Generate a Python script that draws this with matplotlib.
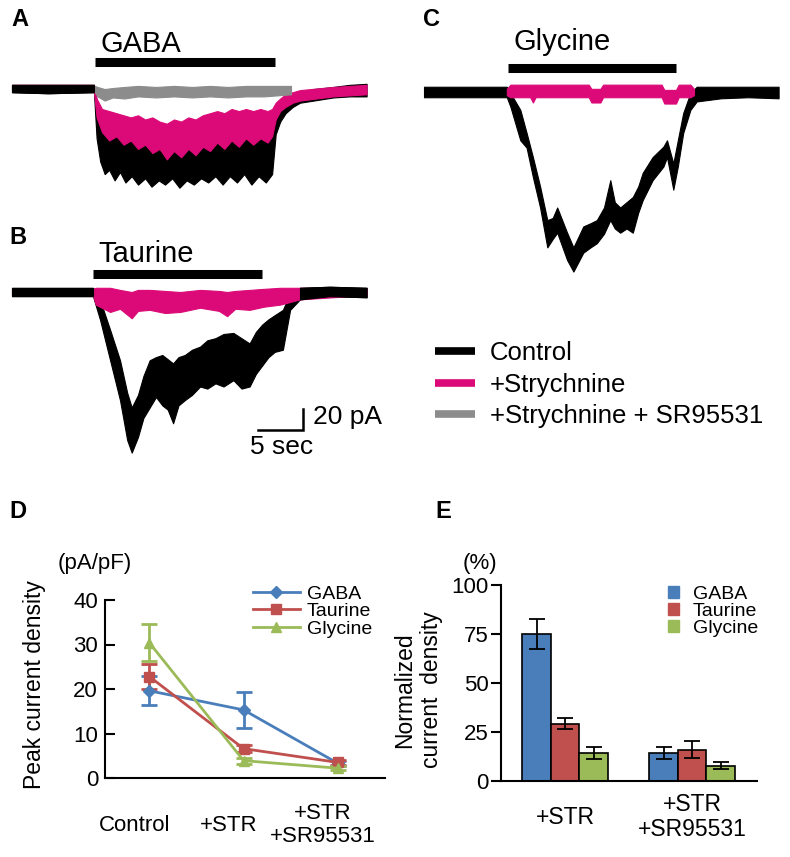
import numpy as np
import matplotlib
matplotlib.use('Agg')
import matplotlib.pyplot as plt
from matplotlib.lines import Line2D
from matplotlib.patches import Patch

plt.rcParams['font.family'] = ['Liberation Sans', 'DejaVu Sans']

W, H = 790, 857
PX_S = 9.0     # px per second in traces
PX_PA = 1.05   # px per pA in traces

BLACK = '#000000'
PINK = '#dc0a78'
GREY = '#8c8c8c'
C_GABA = '#4a7ebb'
C_TAU = '#c0504d'
C_GLY = '#9bbb59'

# ---- traces: columns are time (s), upper edge (pA), lower edge (pA)
ctrl_a = np.array([
    [0.0, 3, -4], [4.0, 3, -5], [9.1, 3, -4], [9.4, -12, -48], [9.8, -28, -70],
    [10.3, -36, -82], [10.8, -40, -78], [11.4, -45, -88], [12.0, -44, -80],
    [12.6, -48, -90], [13.3, -50, -84], [14.0, -47, -92], [14.8, -52, -86],
    [15.5, -49, -94], [16.3, -53, -88], [17.0, -50, -92], [17.8, -54, -86],
    [18.6, -50, -95], [19.4, -52, -88], [20.2, -48, -92], [21.0, -52, -86],
    [21.8, -46, -90], [22.6, -44, -84], [23.4, -46, -92], [24.2, -42, -84],
    [25.0, -40, -90], [25.8, -42, -82], [26.6, -38, -92], [27.4, -40, -84],
    [28.2, -36, -90], [28.9, -34, -82], [29.3, -22, -44], [29.8, -16, -32],
    [30.4, -10, -24], [31.2, -6, -18], [32.0, -4, -14], [33.5, -1, -12],
    [35.7, 1, -9], [37.5, 3, -8], [39.4, 4, -8]])
stry_a = np.array([
    [0.0, 3, -3], [9.1, 3, -3], [9.4, -10, -28], [10.0, -20, -42], [10.8, -22, -50],
    [11.6, -24, -46], [12.4, -26, -54], [13.2, -28, -50], [14.0, -26, -58],
    [14.8, -30, -54], [15.6, -28, -62], [16.4, -32, -58], [17.2, -34, -68],
    [18.0, -30, -60], [18.8, -32, -66], [19.6, -28, -58], [20.4, -30, -64],
    [21.2, -26, -56], [22.0, -24, -60], [22.8, -22, -52], [23.6, -24, -58],
    [24.4, -20, -50], [25.2, -22, -56], [26.0, -20, -48], [26.8, -22, -54],
    [27.6, -20, -48], [28.4, -22, -52], [28.9, -20, -46], [29.3, -14, -30],
    [29.8, -10, -22], [30.4, -6, -18], [31.2, -4, -14], [32.0, -2, -12],
    [35.7, 1, -8], [39.4, 3, -6]])
sr_a = np.array([
    [9.2, 2, -4], [9.5, 1, -8], [10.3, -1, -12], [11.2, 0, -9],
    [12.5, 1, -10], [14.0, 2, -8], [16.0, 1, -9], [18.0, 2, -8], [20.0, 1, -9],
    [22.0, 2, -8], [24.0, 1, -9], [26.0, 2, -8], [28.0, 2, -8], [31.0, 2, -6]])

ctrl_b = np.array([
    [0.0, 4, -4], [9.0, 4, -4], [9.8, -8, -27], [10.9, -36, -65], [12.0, -65, -103],
    [12.8, -96, -141], [13.3, -110, -153], [14.0, -98, -138], [14.6, -80, -120],
    [15.3, -65, -110], [16.0, -62, -100], [16.7, -60, -108], [17.3, -64, -112],
    [17.9, -68, -125], [18.5, -62, -108], [19.2, -60, -103], [20.0, -55, -98],
    [20.9, -52, -90], [21.7, -46, -92], [22.6, -44, -87], [23.5, -40, -90],
    [24.6, -39, -84], [25.5, -44, -92], [26.4, -49, -90], [27.1, -38, -78],
    [27.8, -31, -70], [28.5, -26, -62], [29.2, -22, -57], [30.1, -17, -55],
    [30.9, -1, -17], [32.0, 4, -7], [35.3, 5, -4], [39.4, 4, -5]])
stry_b = np.array([
    [0.0, 3, -3], [9.0, 3, -3], [9.3, 4, -12], [10.9, 4, -19], [12.0, 2, -16],
    [13.3, 0, -25], [14.0, 2, -18], [15.3, 2, -17], [17.0, 1, -20], [18.7, 0, -19],
    [20.9, 2, -15], [23.0, 1, -18], [23.9, 0, -23], [24.8, 1, -16], [26.4, 2, -17],
    [28.0, 3, -14], [29.8, 4, -12], [32.0, 4, -7], [39.4, 3, -3]])

ctrl_c = np.array([
    [0.0, 5, -5], [9.2, 5, -5], [9.6, -1, -14], [10.7, -17, -46], [11.4, -39, -53],
    [12.1, -62, -81], [12.9, -90, -110], [13.7, -122, -148], [14.3, -120, -140],
    [14.8, -110, -134], [15.9, -134, -160], [16.6, -148, -171], [17.7, -128, -153],
    [18.5, -125, -148], [19.2, -122, -144], [20.0, -110, -135], [20.7, -84, -122],
    [21.2, -105, -130], [21.8, -110, -134], [22.5, -105, -130], [23.2, -100, -134],
    [23.8, -90, -115], [24.3, -77, -103], [25.4, -62, -84], [26.6, -52, -71],
    [27.0, -46, -62], [27.7, -68, -93], [28.2, -46, -71], [28.8, -20, -39],
    [29.6, -1, -17], [30.3, 5, -9], [33.0, 5, -6], [36.0, 5, -5], [39.4, 5, -6]])
stry_c = np.array([
    [9.2, 3, -3], [9.6, 7, -5], [11.8, 7, -5], [12.1, 7, -10],
    [12.4, 7, -5], [18.3, 7, -5], [18.6, 3, -10], [19.6, 3, -10], [19.9, 7, -5],
    [26.4, 7, -5], [26.7, 2, -11], [28.0, 2, -11], [28.3, 7, -5], [29.6, 7, -5],
    [30.0, 3, -3]])

# drug application (start, stop) in s
app_a = (9.2, 29.2)
app_b = (9.0, 27.8)
app_c = (9.3, 28.0)

# ---- D: peak current density (pA/pF)
d_cats = ['Control', '+STR', '+STR\n+SR95531']
gaba_pcd = [19.6, 15.3, 3.3]
gaba_pcd_err = [3.3, 4.0, 0.5]
tau_pcd = [22.8, 6.6, 3.5]
tau_pcd_err = [2.8, 0.8, 0.5]
gly_pcd = [30.4, 3.9, 2.2]
gly_pcd_err = [4.2, 0.7, 0.5]

# ---- E: normalized current density (%)
e_cats = ['+STR', '+STR\n+SR95531']
gaba_norm = [75.0, 14.2]
gaba_norm_err = [7.8, 3.0]
tau_norm = [29.2, 16.0]
tau_norm_err = [2.7, 4.5]
gly_norm = [14.1, 7.8]
gly_norm_err = [3.0, 1.7]

fig = plt.figure(figsize=(W / 100, H / 100), dpi=100)


def px_box(l, t, r, b):
    return [l / W, 1 - b / H, (r - l) / W, (b - t) / H]


def trace_ax(l, t, r, b, x0, y0):
    ax = fig.add_axes(px_box(l, t, r, b))
    ax.set_xlim((l - x0) / PX_S, (r - x0) / PX_S)
    ax.set_ylim(-(b - y0) / PX_PA, (y0 - t) / PX_PA)
    ax.axis('off')
    return ax


def draw_trace(ax, tr, color):
    ax.fill_between(tr[:, 0], tr[:, 2], tr[:, 1], color=color, lw=0.8)


def drug(ax, app, ybar, label, ytxt):
    ax.plot(app, [ybar, ybar], color='black', lw=6.5, solid_capstyle='butt')
    ax.text(app[0] + 0.6, ytxt, label, fontsize=21, va='baseline', ha='left')


# A
axa = trace_ax(0, 0, 395, 215, 12, 88)
draw_trace(axa, ctrl_a, BLACK)
draw_trace(axa, stry_a, PINK)
draw_trace(axa, sr_a, GREY)
draw_trace(axa, ctrl_a[ctrl_a[:, 0] <= app_a[0]], BLACK)
drug(axa, app_a, 25.2, 'GABA', 34.3)

# B
axb = trace_ax(0, 215, 395, 470, 12, 292)
draw_trace(axb, ctrl_b, BLACK)
draw_trace(axb, stry_b, PINK)
draw_trace(axb, ctrl_b[ctrl_b[:, 0] <= app_b[0]], BLACK)
draw_trace(axb, ctrl_b[ctrl_b[:, 0] >= 32.0], BLACK)
drug(axb, app_b, 17.1, 'Taurine', 28.6)
# scale bar 5 s / 20 pA
sx, sy = 27.3, -131.4
axb.plot([sx, sx + 5, sx + 5], [sy, sy, sy + 20], color='black', lw=1.8,
         solid_joinstyle='miter')
axb.text(sx + 6.1, sy + 12, '20 pA', fontsize=19, va='center', ha='left')
axb.text(sx + 2.6, sy - 16, '5 sec', fontsize=19, va='center', ha='center')

# C
axc = trace_ax(400, 0, 790, 300, 424, 92)
draw_trace(axc, ctrl_c, BLACK)
draw_trace(axc, stry_c, PINK)
drug(axc, app_c, 23.3, 'Glycine', 40.0)

# panel letters
for lab, x, y in [('A', 20, 19), ('B', 18, 237), ('C', 432, 19), ('D', 18, 512), ('E', 443, 512)]:
    fig.text(x / W, 1 - y / H, lab, fontsize=17, fontweight='bold', ha='center', va='center')

# legend for traces
hs = [Line2D([], [], color=c, lw=5.5, solid_capstyle='butt') for c in (BLACK, PINK, GREY)]
fig.legend(hs, ['Control', '+Strychnine', '+Strychnine + SR95531'],
           loc='upper left', bbox_to_anchor=(435 / W, 1 - 341 / H), frameon=False,
           fontsize=18.5, handlelength=1.56, handletextpad=0.58, labelspacing=0.3,
           borderpad=0, borderaxespad=0)

# D
axd = fig.add_axes(px_box(105, 600, 385, 778))
xd = np.arange(len(d_cats))
d_series = [(gaba_pcd, gaba_pcd_err, C_GABA, 'D', 6.5, 'GABA'),
            (tau_pcd, tau_pcd_err, C_TAU, 's', 7, 'Taurine'),
            (gly_pcd, gly_pcd_err, C_GLY, '^', 7.5, 'Glycine')]
dh = []
for vals, errs, c, m, ms, lab in d_series:
    axd.errorbar(xd, vals, yerr=errs, color=c, marker=m, ms=ms, lw=2, capsize=6,
                 capthick=2, elinewidth=2)
    dh.append(Line2D([], [], color=c, marker=m, ms=ms, lw=2))
axd.set_xlim(-0.47, 2.5)
axd.set_ylim(0, 40)
axd.set_yticks([0, 10, 20, 30, 40])
axd.set_xticks(xd - 0.16)
axd.set_xticklabels(d_cats, fontsize=16, va='center', ha='center', linespacing=1.1)
axd.tick_params(axis='x', length=0, pad=34)
axd.tick_params(axis='y', direction='in', length=7, width=1.5, labelsize=16, pad=5)
for s in ['top', 'right']:
    axd.spines[s].set_visible(False)
for s in ['left', 'bottom']:
    axd.spines[s].set_linewidth(1.5)
axd.legend(dh, ['GABA', 'Taurine', 'Glycine'], loc='upper left',
           bbox_to_anchor=(253 / W, 1 - 585 / H),
           bbox_transform=fig.transFigure, frameon=False, fontsize=14,
           handlelength=2.4, handletextpad=0.36, labelspacing=0.0,
           borderpad=0, borderaxespad=0)
fig.text(35 / W, 1 - 685 / H, 'Peak current density', rotation=90, fontsize=16.5,
         ha='center', va='center')
fig.text(95 / W, 1 - 563 / H, '(pA/pF)', fontsize=16, ha='center', va='center')

# E
axe = fig.add_axes(px_box(501, 585, 757, 781))
xe = np.arange(len(e_cats))
bw = 0.224
for off, vals, errs, c in [(-bw, gaba_norm, gaba_norm_err, C_GABA),
                           (0, tau_norm, tau_norm_err, C_TAU),
                           (bw, gly_norm, gly_norm_err, C_GLY)]:
    axe.bar(xe + off, vals, bw, color=c, edgecolor='black', lw=1.2, yerr=errs,
            capsize=6, error_kw=dict(elinewidth=1.3, capthick=1.3, ecolor='black'))
axe.set_xlim(-0.504, 1.51)
axe.set_ylim(0, 100)
axe.set_yticks([0, 25, 50, 75, 100])
axe.set_xticks(xe)
axe.set_xticklabels(e_cats, fontsize=16.5, va='center', ha='center', linespacing=1.1)
axe.tick_params(axis='x', length=0, pad=26)
axe.tick_params(axis='y', direction='out', length=7, width=1.5, labelsize=16, pad=2)
for s in ['top', 'right']:
    axe.spines[s].set_visible(False)
for s in ['left', 'bottom']:
    axe.spines[s].set_linewidth(1.5)
eh = [Patch(color=c) for c in (C_GABA, C_TAU, C_GLY)]
axe.legend(eh, ['GABA', 'Taurine', 'Glycine'], loc='upper left',
           bbox_to_anchor=(668 / W, 1 - 586 / H), bbox_transform=fig.transFigure,
           frameon=False, fontsize=14, handlelength=0.55, handleheight=0.55,
           handletextpad=0.72, labelspacing=0.0, borderpad=0, borderaxespad=0)
fig.text(418 / W, 1 - 690 / H, 'Normalized\ncurrent  density', rotation=90,
         fontsize=16.5, ha='center', va='center', linespacing=1.25)
fig.text(480 / W, 1 - 563 / H, '(%)', fontsize=16, ha='center', va='center')

fig.savefig('out.png', dpi=100)
